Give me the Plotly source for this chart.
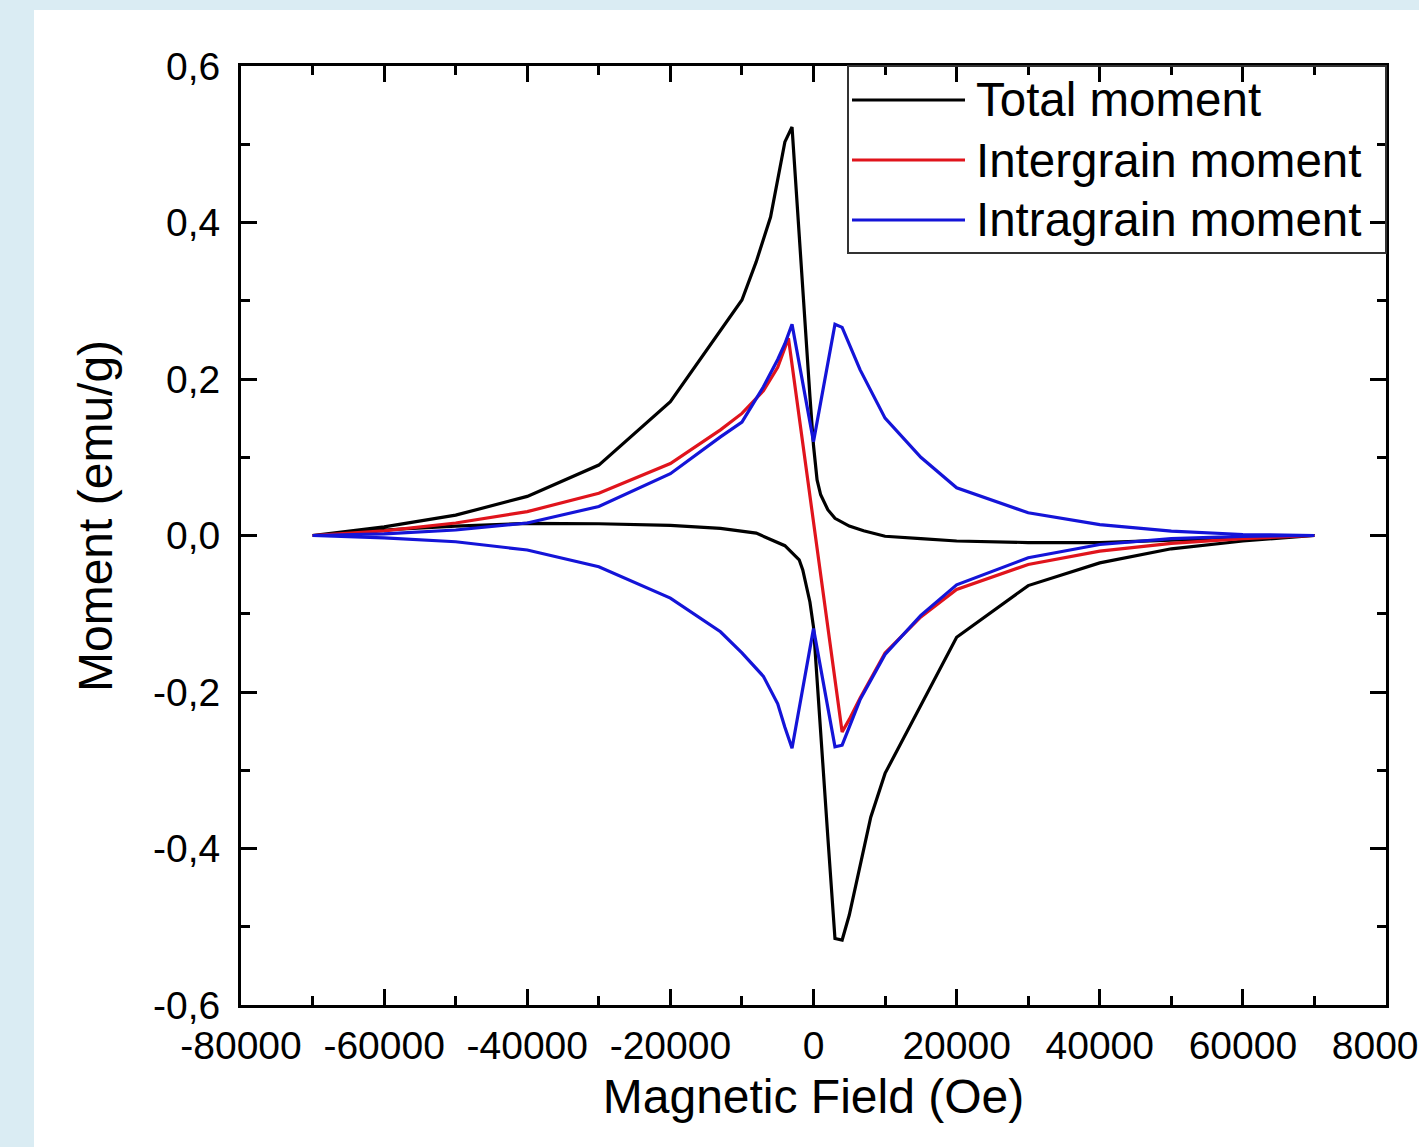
import plotly.graph_objects as go

# ---------------- data ----------------
# Total moment: hysteresis loop, branch with increasing field then branch back
total_x_a = [-70000, -60000, -50000, -40000, -30000, -20000, -10000, -8000, -6000, -4700,
             -4000, -3000, -2000, -1000, -500, 0, 500, 1000, 2000, 3000, 5000, 7000,
             10000, 15000, 20000, 30000, 40000, 50000, 60000, 70000]
total_y_a = [0.0, 0.011, 0.026, 0.050, 0.090, 0.171, 0.301, 0.350, 0.407, 0.467,
             0.503, 0.522, 0.380, 0.245, 0.178, 0.115, 0.071, 0.052, 0.033, 0.022, 0.012, 0.006,
             -0.001, -0.004, -0.007, -0.009, -0.009, -0.006, -0.003, 0.0]
total_x_b = [70000, 60000, 50000, 40000, 30000, 20000, 12500, 10000, 8000, 6500, 5000,
             4000, 3000, 2000, 1000, 500, 0, -500, -1000, -1500, -2000, -4000, -8000,
             -13000, -20000, -30000, -40000, -50000, -60000, -70000]
total_y_b = [0.0, -0.007, -0.017, -0.035, -0.064, -0.130, -0.261, -0.304, -0.360, -0.423, -0.485,
             -0.517, -0.515, -0.385, -0.250, -0.170, -0.117, -0.085, -0.063, -0.044, -0.031, -0.013, 0.003,
             0.009, 0.013, 0.015, 0.0155, 0.012, 0.007, 0.0]

# Intergrain moment
inter_x = [-70000, -60000, -50000, -40000, -30000, -20000, -13000, -10000, -7000, -5000, -3500,
           4000, 5000, 6500, 10000, 15000, 20000, 30000, 40000, 50000, 60000, 70000]
inter_y = [0.0, 0.006, 0.016, 0.0305, 0.054, 0.092, 0.135, 0.156, 0.185, 0.215, 0.252,
           -0.251, -0.235, -0.208, -0.150, -0.104, -0.069, -0.037, -0.020, -0.010, -0.004, 0.0]

# Intragrain moment: loop
intra_x_a = [-70000, -60000, -50000, -40000, -30000, -20000, -13000, -10000, -7000, -5000,
             -4000, -3000, 0, 3000, 4000, 6500, 10000, 15000, 20000, 30000, 40000, 50000, 60000, 70000]
intra_y_a = [0.0, 0.002, 0.007, 0.016, 0.037, 0.079, 0.126, 0.145, 0.190, 0.225,
             0.245, 0.270, 0.120, 0.270, 0.266, 0.212, 0.150, 0.100, 0.061, 0.029, 0.014, 0.0055, 0.0013, 0.0]
intra_x_b = [70000, 60000, 50000, 40000, 30000, 20000, 15000, 10000, 6500, 4000, 3000, 0,
             -3000, -4000, -5000, -7000, -10000, -13000, -20000, -30000, -40000, -50000, -60000, -70000]
intra_y_b = [0.0, -0.001, -0.004, -0.0115, -0.0285, -0.063, -0.102, -0.152, -0.210, -0.268, -0.270, -0.119,
             -0.272, -0.245, -0.215, -0.180, -0.150, -0.123, -0.080, -0.040, -0.0185, -0.008, -0.003, 0.0]

series_names = ["Total moment", "Intergrain moment", "Intragrain moment"]
series_colors = ["#000000", "#E0141C", "#1414D8"]

x_tickvals = [-80000, -60000, -40000, -20000, 0, 20000, 40000, 60000, 80000]
x_ticktext = ["-80000", "-60000", "-40000", "-20000", "0", "20000", "40000", "60000", "80000"]
y_tickvals = [-0.6, -0.4, -0.2, 0.0, 0.2, 0.4, 0.6]
y_ticktext = ["-0,6", "-0,4", "-0,2", "0,0", "0,2", "0,4", "0,6"]

x_title = "Magnetic Field (Oe)"
y_title = "Moment (emu/g)"

# ---------------- figure ----------------
FONT = "Arial, 'Liberation Sans', sans-serif"
fig = go.Figure()
fig.add_trace(go.Scatter(x=total_x_a + total_x_b, y=total_y_a + total_y_b, mode="lines",
                         name=series_names[0], line=dict(color=series_colors[0], width=3.2)))
fig.add_trace(go.Scatter(x=inter_x, y=inter_y, mode="lines",
                         name=series_names[1], line=dict(color=series_colors[1], width=3.2)))
fig.add_trace(go.Scatter(x=intra_x_a + intra_x_b, y=intra_y_a + intra_y_b, mode="lines",
                         name=series_names[2], line=dict(color=series_colors[2], width=3.2)))

W, H = 1419, 1147
L, R, T, B = 241, 33, 66, 142
pw, ph = W - L - R, H - T - B


def px_x(p):
    return (p - L) / pw


def px_y(p):
    return (H - B - p) / ph


shapes = [
    # white card over the light-blue page
    dict(type="rect", xref="paper", yref="paper", x0=px_x(34), x1=px_x(W + 5),
         y0=px_y(H + 5), y1=px_y(10), fillcolor="white", line=dict(width=0), layer="below"),
    # legend box
    dict(type="rect", xref="paper", yref="paper", x0=px_x(848), x1=1.0,
         y0=px_y(253), y1=1.0, fillcolor="rgba(0,0,0,0)", line=dict(color="#333333", width=2)),
]
annotations = []
rows = [100, 160, 220]
for name, col, ry in zip(series_names, series_colors, rows):
    shapes.append(dict(type="line", xref="paper", yref="paper", x0=px_x(852), x1=px_x(965),
                       y0=px_y(ry), y1=px_y(ry), line=dict(color=col, width=3)))
    annotations.append(dict(xref="paper", yref="paper", x=px_x(974), y=px_y(ry), text=name,
                            showarrow=False, xanchor="left", yanchor="middle",
                            font=dict(family=FONT, size=47.5, color="black")))

# y-axis title placed as rotated text
annotations.append(dict(xref="paper", yref="paper", x=px_x(95), y=px_y(516), text=y_title,
                        textangle=-90, showarrow=False, xanchor="center", yanchor="middle",
                        font=dict(family=FONT, size=48, color="black")))

axis_common = dict(showline=True, linewidth=3, linecolor="black", mirror="ticks",
                   ticks="inside", ticklen=16, tickwidth=3, tickcolor="black",
                   showgrid=False, zeroline=False, ticklabeloverflow="allow", automargin=False,
                   tickfont=dict(family=FONT, size=39, color="black"))

fig.update_layout(
    width=W, height=H, autosize=False,
    margin=dict(l=L, r=R, t=T, b=B, pad=0),
    paper_bgcolor="#DAECF3", plot_bgcolor="white",
    showlegend=False,
    shapes=shapes, annotations=annotations,
    xaxis=dict(range=[-80000, 80000], tickmode="array", tickvals=x_tickvals, ticktext=x_ticktext,
               minor=dict(ticks="inside", ticklen=9, tickwidth=3, tickcolor="black",
                          tick0=0, dtick=10000, showgrid=False),
               title=dict(text=x_title, font=dict(family=FONT, size=48, color="black"),
                          standoff=14),
               ticklabelstandoff=4,
               **axis_common),
    yaxis=dict(range=[-0.6, 0.6], tickmode="array", tickvals=y_tickvals, ticktext=y_ticktext,
               minor=dict(ticks="inside", ticklen=9, tickwidth=3, tickcolor="black",
                          tick0=0, dtick=0.1, showgrid=False),
               ticklabelstandoff=10,
               **axis_common),
)

fig.write_html("out.html", config={"displayModeBar": False, "responsive": False},
               post_script="document.body.style.margin='0';document.body.style.overflow='hidden';")
